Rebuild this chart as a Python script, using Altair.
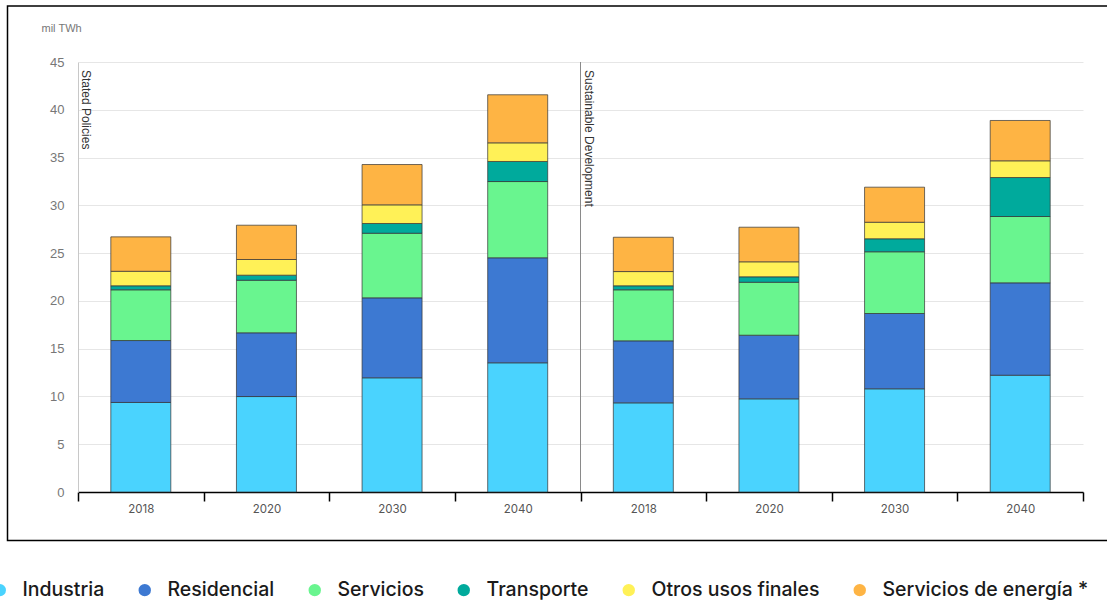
import altair as alt
import pandas as pd

# Final electricity demand by sector (thousand TWh), two IEA scenarios
years = ["2018", "2020", "2030", "2040"]
scenarios = ["Stated Policies", "Sustainable Development"]
scenario_codes = ["SP", "SD"]

categories = ["Industria", "Residencial", "Servicios", "Transporte",
              "Otros usos finales", "Servicios de energía *"]
colors = ["#4AD3FE", "#3D79D2", "#69F58F", "#00AA9C", "#FFF157", "#FEB444"]

# one list per sector: SP 2018, 2020, 2030, 2040, SD 2018, 2020, 2030, 2040
industria = [9.37, 9.99, 11.95, 13.52, 9.33, 9.75, 10.80, 12.22]
residencial = [6.48, 6.67, 8.37, 10.99, 6.49, 6.66, 7.88, 9.67]
servicios = [5.31, 5.50, 6.76, 7.98, 5.34, 5.54, 6.46, 6.94]
transporte = [0.42, 0.53, 1.02, 2.10, 0.42, 0.57, 1.36, 4.08]
otros = [1.52, 1.64, 1.95, 1.95, 1.49, 1.57, 1.73, 1.75]
energia = [3.60, 3.59, 4.22, 5.03, 3.59, 3.62, 3.67, 4.22]

series = [industria, residencial, servicios, transporte, otros, energia]
keys = [f"{s}|{y}" for s in scenario_codes for y in years]

rows = []
for idx, (cat, vals) in enumerate(zip(categories, series)):
    for key, v in zip(keys, vals):
        rows.append({"key": key, "sector": cat, "idx": idx, "value": v})
df = pd.DataFrame(rows)

labels_df = pd.DataFrame({"key": [f"{c}|2018" for c in scenario_codes],
                          "label": scenarios})

W, H = 1005, 430
PAD_L, PAD_T = 78, 62

x_scale = alt.Scale(domain=keys, paddingInner=0, paddingOuter=0)

bars = alt.Chart(df).mark_bar(
    size=60, stroke="#333333", strokeWidth=1, strokeOpacity=0.7
).encode(
    x=alt.X("key:N", scale=x_scale, sort=keys,
            axis=alt.Axis(title=None, labelAngle=0, tickBand="extent",
                          labelExpr="split(datum.label, '|')[1]",
                          domainColor="#000000", domainWidth=1.5,
                          tickColor="#000000", tickWidth=1.5, tickSize=9,
                          labelPadding=2, labelFont="Inter", labelFontSize=11.5,
                          labelColor="#555555", grid=False)),
    y=alt.Y("value:Q", stack="zero",
            scale=alt.Scale(domain=[0, 45], nice=False),
            axis=alt.Axis(values=list(range(0, 46, 5)), title="mil TWh",
                          titleAngle=0, titleAlign="left", titleBaseline="middle",
                          titleX=-37, titleY=-34, titleFont="Liberation Sans",
                          titleFontSize=11, titleFontWeight="normal",
                          titleColor="#777777",
                          labelFont="Liberation Sans", labelFontSize=13,
                          labelColor="#777777", labelPadding=14, ticks=False,
                          domainColor="#c8c8c8", gridColor="#e6e6e6")),
    color=alt.Color("sector:N", scale=alt.Scale(domain=categories, range=colors),
                    legend=alt.Legend(title=None, orient="none", direction="horizontal",
                                      legendX=-88, legendY=518, padding=0,
                                      symbolType="circle", symbolSize=154,
                                      symbolStrokeWidth=0, labelFont="Inter",
                                      labelFontSize=19.5, labelFontWeight=500,
                                      labelColor="#1a1a1a", labelOffset=13,
                                      columnPadding=30, labelLimit=400)),
    order=alt.Order("idx:Q", sort="ascending"),
)

divider = alt.Chart(labels_df).transform_filter(
    alt.datum.key == "SD|2018"
).mark_rule(color="#8a8a8a", strokeWidth=1).encode(
    x=alt.X("key:N", bandPosition=0),
    y=alt.value(0),
    y2=alt.value(H),
)

scenario_text = alt.Chart(labels_df).mark_text(
    angle=90, align="left", baseline="alphabetic", dy=-4,
    font="Liberation Sans", fontSize=12, color="#333333",
).encode(
    x=alt.X("key:N", bandPosition=0),
    y=alt.value(8),
    text="label:N",
)

frame = alt.Chart(pd.DataFrame({"f": [0]})).mark_rect(
    fill="transparent", stroke="#000000", strokeWidth=1.5
).encode(
    x=alt.value(7.5 - PAD_L), x2=alt.value(1120 - PAD_L),
    y=alt.value(6 - PAD_T), y2=alt.value(540.5 - PAD_T),
)

chart = alt.layer(frame, bars, divider, scenario_text).properties(
    width=W, height=H,
    autosize=alt.AutoSizeParams(type="none"),
    padding={"left": PAD_L, "top": PAD_T, "right": 1107 - PAD_L - W,
             "bottom": 601 - PAD_T - H},
    background="white",
).configure_view(stroke=None)

chart.save("out.html", embed_options={"renderer": "svg", "actions": False})
